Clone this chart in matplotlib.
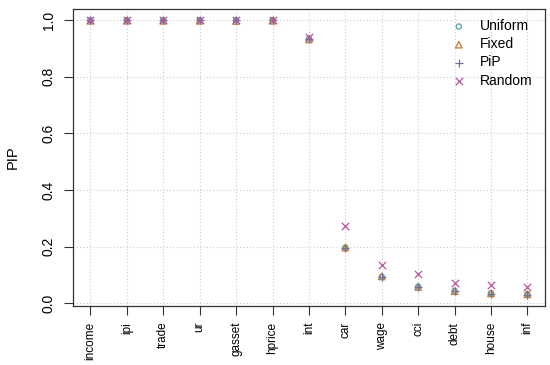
import matplotlib
matplotlib.use("Agg")
import matplotlib.pyplot as plt
import numpy as np

plt.rcParams['font.family'] = ['Liberation Sans', 'DejaVu Sans']

variables = ["income", "ipi", "trade", "ur", "gasset", "hprice", "int",
             "car", "wage", "cci", "debt", "house", "inf"]
uniform = [1.0, 1.0, 1.0, 1.0, 1.0, 1.0, 0.935, 0.197, 0.094, 0.059, 0.044, 0.036, 0.033]
fixed   = [0.998, 0.998, 0.998, 0.998, 0.997, 0.998, 0.932, 0.197, 0.095, 0.058, 0.043, 0.035, 0.032]
pip     = [1.0, 1.0, 1.0, 1.0, 1.0, 1.0, 0.935, 0.195, 0.093, 0.057, 0.042, 0.033, 0.028]
random_ = [1.0, 1.0, 1.0, 1.0, 1.0, 1.0, 0.942, 0.272, 0.135, 0.102, 0.072, 0.063, 0.056]
yticks = [0.0, 0.2, 0.4, 0.6, 0.8, 1.0]

fig = plt.figure(figsize=(5.5, 3.65), dpi=100)
ax = fig.add_axes([0.1327, 0.162, 0.858, 0.813])

x = np.arange(1, len(variables) + 1)
ax.grid(True, color="#cccccc", linestyle=(0, (1, 2)), linewidth=0.8)
ax.set_axisbelow(True)

ax.scatter(x, uniform, marker="o", s=14, facecolors="none", edgecolors="#4fa3ad", linewidths=0.9, label="Uniform", zorder=3)
ax.scatter(x, fixed, marker="^", s=22, facecolors="none", edgecolors="#c97a2a", linewidths=0.9, label="Fixed", zorder=3)
ax.scatter(x, pip, marker="+", s=40, color="#6e6ea8", linewidths=0.9, label="PiP", zorder=3)
ax.scatter(x, random_, marker="x", s=28, color="#b9559e", linewidths=0.9, label="Random", zorder=3)

ax.set_xlim(1 - 0.48, 13 + 0.48)
ax.set_ylim(-0.009, 1.039)
ax.set_xticks(x)
ax.set_xticklabels(variables, rotation=90, fontsize=8.5)
ax.set_yticks(yticks)
ax.set_yticklabels([f"{v:.1f}" for v in yticks], rotation=90, va="center", fontsize=10)
ax.tick_params(axis="both", direction="out", length=6.5, width=0.8, color="#333333")
ax.tick_params(axis="x", pad=5)
ax.tick_params(axis="y", pad=6)
ax.set_ylabel("PIP", fontsize=10.5, labelpad=16)
for s in ax.spines.values():
    s.set_color("#333333")
    s.set_linewidth(0.9)

leg = ax.legend(loc="upper right", frameon=False, fontsize=10, handletextpad=1.0,
                labelspacing=0.3, borderaxespad=0.0, handlelength=1.0,
                bbox_to_anchor=(0.985, 0.985))

fig.savefig("out.png", dpi=100)
